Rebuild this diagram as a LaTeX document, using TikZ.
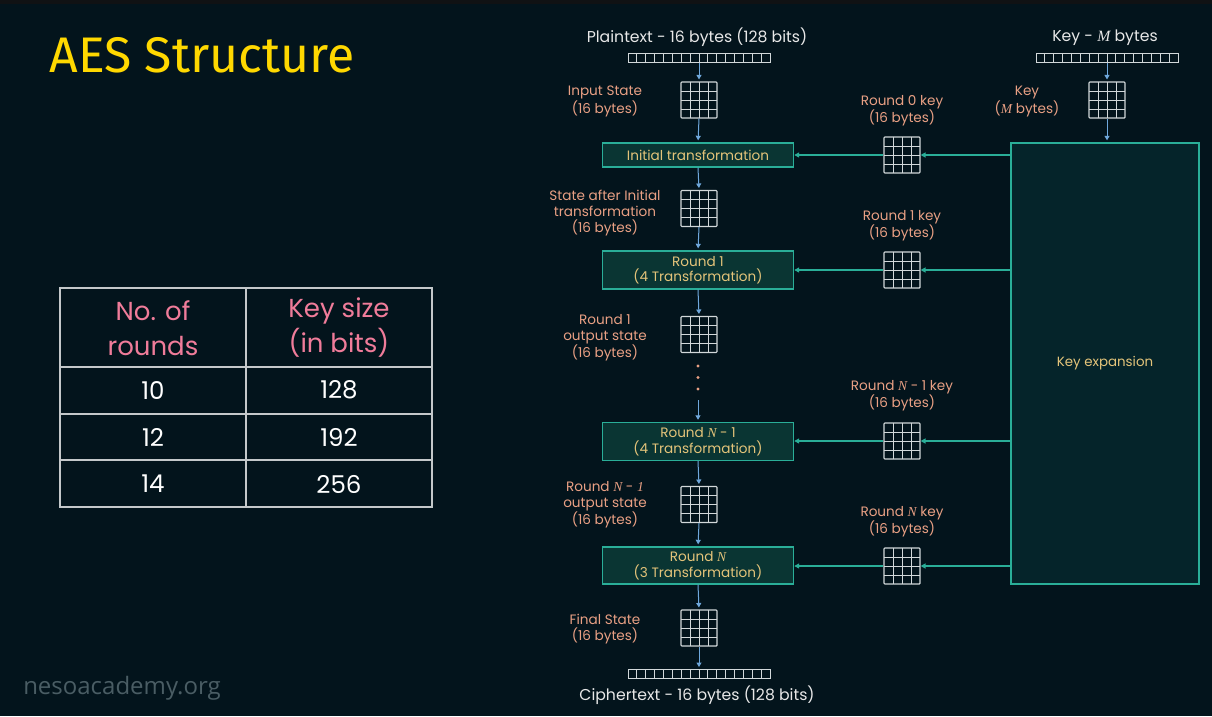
\documentclass[tikz,border=0pt]{standalone}
\usepackage{fontspec}
\usetikzlibrary{arrows.meta,calc}
\setmainfont{Poppins}
\newfontfamily\titlefont{Fira Sans}
\newfontfamily\webfont{Open Sans}
\newfontfamily\varserif{Liberation Serif}
\newcommand{\vsym}[1]{{\varserif\itshape #1}}

\definecolor{bgc}{HTML}{03141C}
\definecolor{barc}{HTML}{101214}
\definecolor{linkteal}{HTML}{2AAE98}
\definecolor{boxfill}{HTML}{0A3533}
\definecolor{kfill}{HTML}{05242A}
\definecolor{gridc}{HTML}{D2D8DA}
\definecolor{flow}{HTML}{6FA8DC}
\definecolor{salmon}{HTML}{E9A084}
\definecolor{gold}{HTML}{E4C47A}
\definecolor{pinkhead}{HTML}{F07C9A}
\definecolor{titleyel}{HTML}{FFD800}
\definecolor{wmc}{HTML}{4A5D64}
\definecolor{tblline}{HTML}{C4C8CA}
\definecolor{headc}{HTML}{E8E8E8}

\tikzset{
  stategrid/.style={draw=gridc, line width=1.1pt, minimum width=36pt, minimum height=36pt,
    inner sep=0pt, rounded corners=0.8pt,
    path picture={\foreach \k in {1,2,3}{
      \draw[gridc, line width=1pt] ([xshift=\k*9pt]path picture bounding box.south west) -- ([xshift=\k*9pt]path picture bounding box.north west);
      \draw[gridc, line width=1pt] ([yshift=\k*9pt]path picture bounding box.south west) -- ([yshift=\k*9pt]path picture bounding box.south east);}}},
  bytestrip/.style={draw=gridc, line width=1pt, minimum width=142pt, minimum height=9pt,
    inner sep=0pt,
    path picture={\foreach \k in {1,...,15}{
      \draw[gridc, line width=0.9pt] ([xshift=\k*8.875pt]path picture bounding box.south west) -- ([xshift=\k*8.875pt]path picture bounding box.north west);}}},
  roundbox/.style={draw=linkteal, fill=boxfill, line width=1.4pt, minimum width=191pt,
    minimum height=24pt, inner sep=0pt, align=center, text=gold,
    font=\fontsize{13.6}{15.5}\selectfont},
  kexpbox/.style={draw=linkteal, fill=kfill, line width=1.4pt, minimum width=188pt,
    minimum height=441pt, inner sep=0pt, text=gold, font=\fontsize{13.4}{15}\selectfont},
  lbl/.style={text=salmon, align=center, inner sep=0pt, font=\fontsize{13.6}{16}\selectfont},
  headtxt/.style={text=headc, inner sep=0pt, font=\fontsize{15.7}{18}\selectfont},
  flowarrow/.style={draw=flow, line width=1pt, -{Triangle[length=4.5pt,width=5pt]}, shorten >=2pt},
  keyarrow/.style={draw=linkteal, line width=1.4pt, -{Triangle[length=5pt,width=5pt]}},
  dotmark/.style={circle, fill=salmon, inner sep=0pt, minimum size=3.4pt},
  tbl/.style={draw=tblline, line width=1.7pt},
  tblhead/.style={text=pinkhead, align=center, inner sep=0pt, font=\fontsize{26}{35}\selectfont},
  tblcell/.style={text=white, inner sep=0pt, font=\fontsize{24.5}{30}\selectfont},
}

\begin{document}
\begin{tikzpicture}[x=1pt, y=-1pt]
  % canvas
  \fill[bgc] (0,0) rectangle (1212,716);
  \fill[barc] (0,0) rectangle (1212,4);
  \useasboundingbox (0,0) rectangle (1212,716);

  % title and site name
  \node[text=titleyel, inner sep=0pt, font=\titlefont\fontsize{50}{52}\selectfont] (title) at (202,55) {AES Structure};
  \node[text=wmc, inner sep=0pt, font=\webfont\fontsize{24}{26}\selectfont] (site) at (122,688) {nesoacademy.org};

  % rounds / key size table
  \draw[tbl] (60,288) rectangle (432,507);
  \draw[tbl] (60,367) -- (432,367);
  \draw[tbl] (60,414) -- (432,414);
  \draw[tbl] (60,460) -- (432,460);
  \draw[tbl] (246,288) -- (246,507);
  \node[tblhead] (hrounds) at (153,328) {No. of\\rounds};
  \node[tblhead] (hkey) at (339,328) {Key size\\(in bits)};
  \node[tblcell] (r1a) at (153,390) {10};
  \node[tblcell] (r1b) at (339,390) {128};
  \node[tblcell] (r2a) at (153,437) {12};
  \node[tblcell] (r2b) at (339,437) {192};
  \node[tblcell] (r3a) at (153,484) {14};
  \node[tblcell] (r3b) at (339,484) {256};

  % data path
  \node[headtxt] (ptxt) at (697,37) {Plaintext - 16 bytes (128 bits)};
  \node[bytestrip] (pstrip) at (699,57.5) {};
  \node[stategrid] (sIn) at (699,100) {};
  \node[lbl] (lIn) at (605,101.5) {Input State\\(16 bytes)};
  \node[roundbox] (bInit) at (698,155) {Initial transformation};
  \node[stategrid] (s0) at (699,208.5) {};
  \node[lbl] (l0) at (605,213) {State after Initial\\transformation\\(16 bytes)};
  \node[roundbox, minimum height=38pt] (b1) at (698,270) {Round 1\\(4 Transformation)};
  \node[stategrid] (s1) at (699,334.5) {};
  \node[lbl] (l1) at (605,337.5) {Round 1\\output state\\(16 bytes)};
  \node[dotmark] (d1) at (698,366) {};
  \node[dotmark] (d2) at (698,377.5) {};
  \node[dotmark] (d3) at (698,389) {};
  \coordinate (dend) at (698,400);
  \node[roundbox, minimum height=38pt] (bN1) at (698,441.5) {Round \vsym{N} - 1\\(4 Transformation)};
  \node[stategrid] (sN1) at (699,504.5) {};
  \node[lbl] (lN1) at (605,505) {Round \vsym{N} - \vsym{1}\\output state\\(16 bytes)};
  \node[roundbox, minimum height=37pt] (bN) at (698,565.5) {Round \vsym{N}\\(3 Transformation)};
  \node[stategrid] (sF) at (699,628) {};
  \node[lbl] (lF) at (605,629) {Final State\\(16 bytes)};
  \node[bytestrip] (cstrip) at (699,674) {};
  \node[headtxt] (ctxt) at (697,695) {Ciphertext - 16 bytes (128 bits)};

  \draw[flowarrow] (pstrip.south) -- (sIn.north);
  \draw[flowarrow] (sIn.south) -- (bInit.north);
  \draw[flowarrow] (bInit.south) -- (s0.north);
  \draw[flowarrow] (s0.south) -- (b1.north);
  \draw[flowarrow] (b1.south) -- (s1.north);
  \draw[flowarrow] (dend) -- (bN1.north);
  \draw[flowarrow] (bN1.south) -- (sN1.north);
  \draw[flowarrow] (sN1.south) -- (bN.north);
  \draw[flowarrow] (bN.south) -- (sF.north);
  \draw[flowarrow] (sF.south) -- (cstrip.north);

  % key schedule
  \node[headtxt] (ktxt) at (1105,38) {Key - \vsym{M} bytes};
  \node[bytestrip] (kstrip) at (1107,57.5) {};
  \node[stategrid] (kg) at (1107,100) {};
  \node[lbl] (lk) at (1027,101.5) {Key\\(\vsym{M} bytes)};
  \node[kexpbox] (kexp) at (1105,363.5) {Key expansion};
  \draw[flowarrow] (kstrip.south -| kg) -- (kg.north);
  \draw[flowarrow] (kg.south) -- (kg.south |- kexp.north);

  \node[stategrid] (k0) at (902,155) {};
  \node[lbl] (lk0) at (902,110.5) {Round 0 key\\(16 bytes)};
  \node[stategrid] (k1) at (902,270) {};
  \node[lbl] (lk1) at (902,225.5) {Round 1 key\\(16 bytes)};
  \node[stategrid] (kN1) at (902,441) {};
  \node[lbl] (lkN1) at (902,395.5) {Round \vsym{N} - 1 key\\(16 bytes)};
  \node[stategrid] (kN) at (902,566) {};
  \node[lbl] (lkN) at (902,521.5) {Round \vsym{N} key\\(16 bytes)};

  \draw[keyarrow] (kexp.west |- k0) -- (k0.east);
  \draw[keyarrow] (k0.west) -- (bInit.east);
  \draw[keyarrow] (kexp.west |- k1) -- (k1.east);
  \draw[keyarrow] (k1.west) -- (b1.east);
  \draw[keyarrow] (kexp.west |- kN1) -- (kN1.east);
  \draw[keyarrow] (kN1.west) -- (bN1.east |- kN1);
  \draw[keyarrow] (kexp.west |- kN) -- (kN.east);
  \draw[keyarrow] (kN.west) -- (bN.east |- kN);
\end{tikzpicture}
\end{document}
